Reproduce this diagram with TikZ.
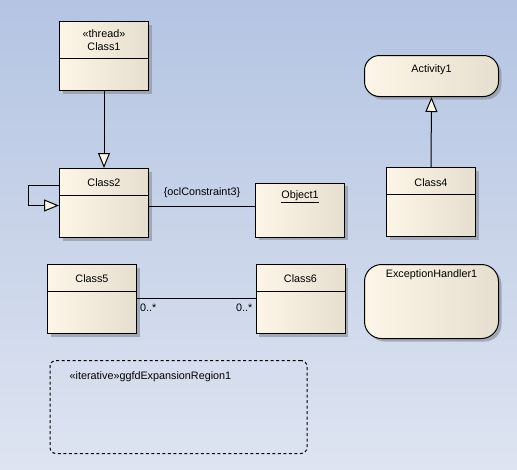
\documentclass[tikz,border=0pt]{standalone}
\usepackage{fontspec}
\setmainfont{Liberation Sans}
\usetikzlibrary{arrows.meta,shadows}
\definecolor{bgtop}{RGB}{180,196,226}
\definecolor{bgbot}{RGB}{222,228,241}
\definecolor{creamL}{RGB}{253,246,232}
\definecolor{creamR}{RGB}{230,222,206}
\definecolor{shadowc}{RGB}{150,156,168}
\begin{document}
\begin{tikzpicture}[x=1pt,y=-1pt,font=\fontsize{10.8}{13}\selectfont,
  box/.style={draw=black,line width=1pt,left color=creamL,right color=creamR,
    drop shadow={shadow xshift=3pt,shadow yshift=-3pt,fill=shadowc,opacity=0.8},
    inner sep=0pt,anchor=north west},
  classbox/.style={box,minimum width=89pt,minimum height=69pt},
  roundbox/.style={box,rounded corners=15pt},
  conn/.style={line width=1pt,draw=black},
  gen/.style={conn,-{Triangle[length=15pt,width=12pt,fill=creamL]}},
  lbl/.style={inner sep=0pt,text=black}]
% background
\fill[top color=bgtop,bottom color=bgbot] (0,0) rectangle (517,469);
\useasboundingbox (0,0) rectangle (517,469);

% Class1
\node[classbox] (c1) at (59,21) {};
\draw[conn] ([yshift=-37pt]c1.north west) -- ([yshift=-37pt]c1.north east);
\node[lbl] (c1s) at ([yshift=-12.5pt]c1.north) {«thread»};
\node[lbl] (c1n) at ([yshift=-25.5pt]c1.north) {Class1};

% Class2
\node[classbox] (c2) at (59,168) {};
\draw[conn] ([yshift=-27pt]c2.north west) -- ([yshift=-27pt]c2.north east);
\node[lbl] (c2n) at ([yshift=-15pt]c2.north) {Class2};

% Object1
\node[box,minimum width=89pt,minimum height=54pt] (o1) at (255,182.5) {};
\node[lbl] (o1n) at ([yshift=-14pt]o1.north) {\underline{Object1}};

% Activity1
\node[roundbox,minimum width=134pt,minimum height=41pt] (a1) at (364,55) {};
\node[lbl] (a1n) at ([yshift=-15pt]a1.north) {Activity1};

% Class4
\node[classbox] (c4) at (386,167) {};
\draw[conn] ([yshift=-27pt]c4.north west) -- ([yshift=-27pt]c4.north east);
\node[lbl] (c4n) at ([yshift=-15.5pt]c4.north) {Class4};

% Class5
\node[classbox] (c5) at (47,264) {};
\draw[conn] ([yshift=-27.5pt]c5.north west) -- ([yshift=-27.5pt]c5.north east);
\node[lbl] (c5n) at ([yshift=-15pt]c5.north) {Class5};

% Class6
\node[classbox] (c6) at (255.5,264) {};
\draw[conn] ([yshift=-27.5pt]c6.north west) -- ([yshift=-27.5pt]c6.north east);
\node[lbl] (c6n) at ([yshift=-15pt]c6.north) {Class6};

% ExceptionHandler1
\node[roundbox,minimum width=134pt,minimum height=74pt,rounded corners=17pt] (eh) at (364,264) {};
\node[lbl] (ehn) at ([yshift=-10.5pt]eh.north) {ExceptionHandler1};

% Expansion region
\node[draw=black,line width=1pt,dash pattern=on 3pt off 2.5pt,rounded corners=6pt,
  minimum width=257pt,minimum height=93pt,inner sep=0pt,anchor=north west] (er) at (49.5,360) {};
\node[lbl,anchor=west] (ern) at ([xshift=20pt,yshift=-16.5pt]er.north west) {«iterative»ggfdExpansionRegion1};

% connectors
\draw[gen] (c1.south) -- (c2.north);
\draw[gen] ([yshift=-17.5pt]c2.north west) -- ++(-31,0) -- ++(0,20) -- ([yshift=-37.5pt]c2.north west);
\draw[conn] (c2.east |- 0,206) -- node[lbl,above=8pt] (ocl) {\{oclConstraint3\}} (o1.west |- 0,206);
\draw[gen] (c4.north) -- (a1.south);
\draw[conn] (c5.east |- 0,298.5) -- (c6.west |- 0,298.5);
\node[lbl,anchor=north west] (m1) at ([xshift=3pt,yshift=-5pt]c5.east |- 0,298.5) {0..*};
\node[lbl,anchor=north east] (m2) at ([xshift=-3pt,yshift=-5pt]c6.west |- 0,298.5) {0..*};
\end{tikzpicture}
\end{document}
